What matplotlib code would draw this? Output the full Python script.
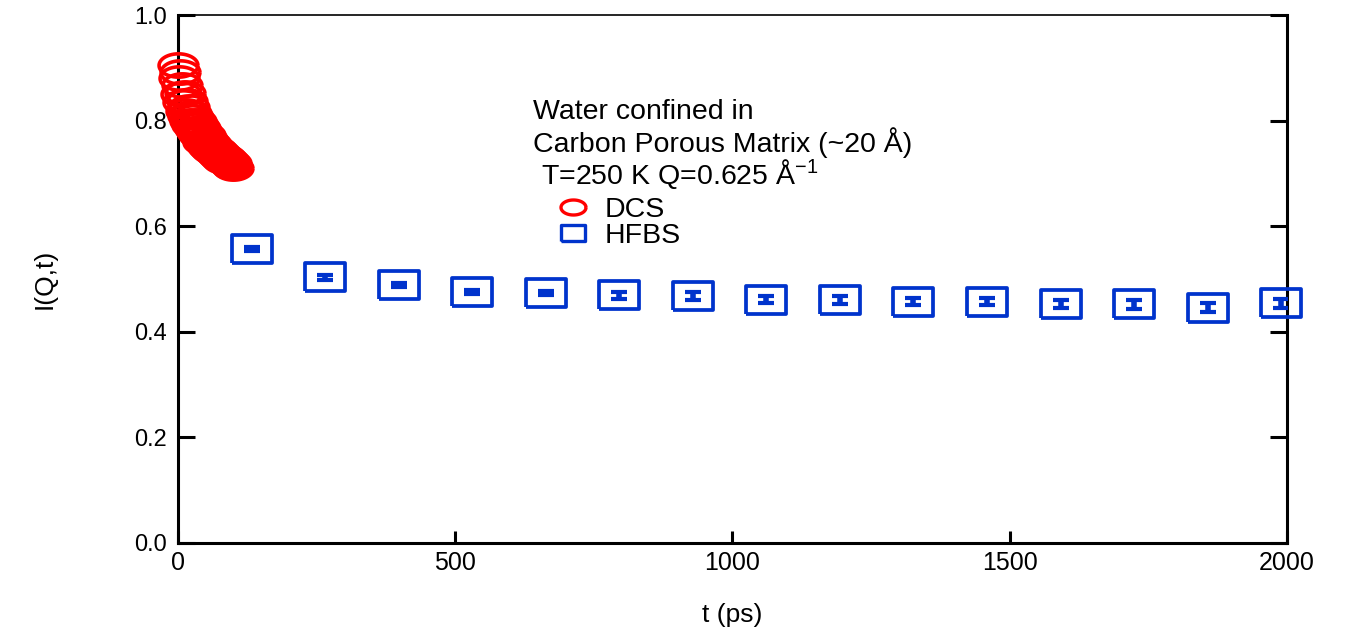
import numpy as np
import matplotlib
matplotlib.use('Agg')
import matplotlib.pyplot as plt
from matplotlib.lines import Line2D

plt.rcParams['font.family'] = ['Liberation Sans', 'DejaVu Sans']

# DCS data (red circles), t in ps
dcs_t = [0, 2, 4, 6, 8, 10, 12, 14, 16, 18, 20, 22, 24, 26, 28, 30, 32, 34,
         36, 38, 40, 42, 44, 46, 48, 50, 52, 54, 56, 58, 60, 62, 64, 66, 68,
         70, 72, 74, 76, 78, 80, 82, 84, 86, 88, 90, 92, 94, 96, 98, 100]
dcs_i = [0.905, 0.880, 0.892, 0.850, 0.868, 0.835, 0.852, 0.818, 0.838, 0.808,
         0.826, 0.800, 0.815, 0.792, 0.806, 0.785, 0.800, 0.778, 0.792, 0.772,
         0.786, 0.768, 0.778, 0.760, 0.772, 0.756, 0.766, 0.750, 0.760, 0.746,
         0.755, 0.742, 0.750, 0.738, 0.746, 0.735, 0.742, 0.731, 0.738, 0.728,
         0.735, 0.724, 0.731, 0.722, 0.728, 0.719, 0.724, 0.716, 0.720, 0.713,
         0.710]

# HFBS data (blue squares)
hfbs_t = [133, 265, 398, 531, 663, 796, 928, 1061, 1194, 1326, 1459, 1592,
          1724, 1857, 1990]
hfbs_i = [0.557, 0.503, 0.489, 0.475, 0.473, 0.469, 0.468, 0.461, 0.460,
          0.457, 0.457, 0.453, 0.452, 0.446, 0.454]
hfbs_err = [0.004, 0.005, 0.004, 0.004, 0.004, 0.007, 0.007, 0.007, 0.007,
            0.007, 0.007, 0.008, 0.008, 0.008, 0.008]

red = '#ff0000'
blue = '#0033cc'

# elliptical / rectangular markers (the original is stretched horizontally)
th = np.linspace(0, 2 * np.pi, 60)
ellipse = list(zip(np.cos(th), 0.6 * np.sin(th)))
rect = [(-1, -0.7), (1, -0.7), (1, 0.7), (-1, 0.7), (-1, -0.7)]

fig = plt.figure(figsize=(13.45, 6.33), dpi=100)
ax = fig.add_axes([0.1323, 0.1422, 0.8246, 0.8341])

ax.plot(dcs_t, dcs_i, linestyle='none', marker=ellipse, markersize=28,
        markerfacecolor='none', markeredgecolor=red, markeredgewidth=2.6,
        clip_on=False, zorder=3)

ax.plot(hfbs_t, hfbs_i, linestyle='none', marker=rect, markersize=28.5,
        markerfacecolor='none', markeredgecolor=blue, markeredgewidth=2.7,
        clip_on=False, zorder=3)
ax.errorbar(hfbs_t, hfbs_i, yerr=hfbs_err, fmt='none', ecolor=blue,
            elinewidth=4, capsize=5.5, capthick=3, zorder=3)

ax.set_xlim(0, 2000)
ax.set_ylim(0, 1.0)
ax.set_xticks([0, 500, 1000, 1500, 2000])
ax.set_yticks([0.0, 0.2, 0.4, 0.6, 0.8, 1.0])
ax.set_yticklabels(['0.0', '0.2', '0.4', '0.6', '0.8', '1.0'])
ax.tick_params(axis='both', direction='in', width=2.2)
ax.tick_params(axis='y', length=12, right=True, pad=8, labelsize=17)
ax.tick_params(axis='x', length=9, pad=6, labelsize=18)

for s in ['left', 'bottom', 'right']:
    ax.spines[s].set_linewidth(2.2)
ax.spines['top'].set_linewidth(1.2)

ax.set_xlabel('t (ps)', fontsize=19, labelpad=20)
ax.set_ylabel('I(Q,t)', fontsize=19, labelpad=56)

ax.text(640, 0.816, 'Water confined in', fontsize=20.5, va='center', ha='left')
ax.text(640, 0.759, 'Carbon Porous Matrix (~20 Å)', fontsize=20.5,
        va='center', ha='left')
ax.text(655, 0.697, 'T=250 K Q=0.625 Å$^{\\mathregular{-1}}$', fontsize=20.5,
        va='center', ha='left')

handles = [
    Line2D([], [], linestyle='none', marker=ellipse, markersize=18,
           markerfacecolor='none', markeredgecolor=red, markeredgewidth=2.4),
    Line2D([], [], linestyle='none', marker=rect, markersize=17,
           markerfacecolor='none', markeredgecolor=blue, markeredgewidth=2.4),
]
ax.legend(handles, ['DCS', 'HFBS'], loc='upper left', frameon=False,
          bbox_to_anchor=(0.324, 0.683), fontsize=20.5, handletextpad=0.35,
          labelspacing=0.0, borderpad=0, handlelength=1.5)

fig.savefig('out.png', dpi=100)
